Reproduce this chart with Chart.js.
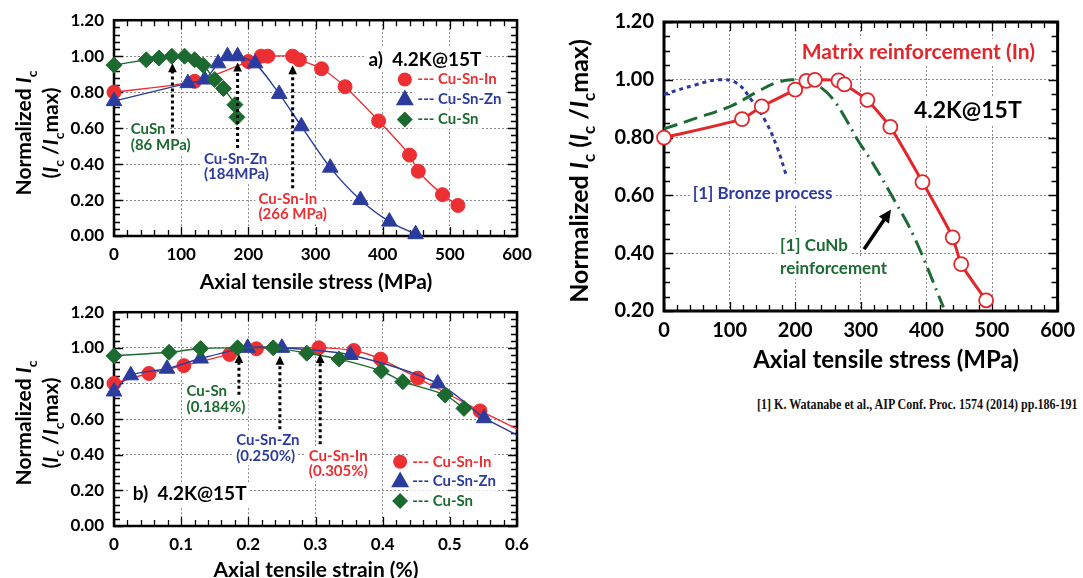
<!DOCTYPE html>
<html>
<head>
<meta charset="utf-8">
<script src="https://cdn.jsdelivr.net/npm/chart.js@4.4.1/dist/chart.umd.min.js"></script>
<style>
  html, body { margin: 0; padding: 0; background: #fff; width: 1083px; height: 578px; overflow: hidden; position: relative; }
  canvas { position: absolute; }
  #caption { position: absolute; left: 757px; top: 397px; font: bold 14px "Liberation Serif", serif; white-space: nowrap; color: #111; transform: scaleX(0.86); transform-origin: 0 0; }
</style>
</head>
<body>
<canvas id="chartA" width="545" height="292" style="left:0;top:0"></canvas>
<canvas id="chartB" width="545" height="286" style="left:0;top:292px"></canvas>
<canvas id="chartC" width="538" height="380" style="left:545px;top:0"></canvas>
<div id="caption">[1] K. Watanabe et al., AIP Conf. Proc. 1574 (2014) pp.186-191</div>
<script>
// a) Ic vs stress (MPa)
const stressCuSnIn = [[0,0.80],[120,0.86],[200,0.97],[219,1.0],[229,1.0],[266,1.0],[276,0.98],[309,0.93],[344,0.83],[394,0.64],[440,0.45],[453,0.36],[489,0.23],[512,0.17]];
const stressCuSnZn = [[0,0.75],[110,0.85],[135,0.87],[155,0.96],[169,1.0],[184,1.0],[210,0.96],[246,0.79],[279,0.61],[322,0.38],[367,0.20],[410,0.08],[449,0.01]];
const stressCuSn = [[0,0.95],[48,0.98],[67,0.99],[86,1.0],[105,1.0],[120,0.98],[133,0.95],[150,0.87],[163,0.82],[180,0.73],[183,0.66]];

// b) Ic vs strain (%)
const strainCuSnIn = [[0,0.80],[0.052,0.856],[0.104,0.90],[0.172,0.963],[0.212,0.995],[0.305,1.0],[0.357,0.985],[0.397,0.937],[0.452,0.83],[0.545,0.646]];
const strainCuSnZn = [[0,0.755],[0.025,0.846],[0.079,0.883],[0.129,0.94],[0.199,1.0],[0.25,1.0],[0.352,0.96],[0.482,0.80],[0.551,0.605]];
const strainCuSn = [[0,0.955],[0.082,0.975],[0.129,0.996],[0.184,1.0],[0.237,1.0],[0.287,0.97],[0.335,0.937],[0.398,0.87],[0.43,0.81],[0.493,0.735],[0.521,0.66]];
const strainInFitTail = [[0.545,0.646],[0.6,0.545]];
const strainZnFitTail = [[0.551,0.605],[0.6,0.51]];

// right) comparison with ref [1]
const matrixIn = [[0,0.80],[119,0.864],[149,0.908],[200,0.966],[217,0.996],[230,1.0],[266,0.998],[275,0.984],[310,0.93],[345,0.837],[394,0.646],[440,0.455],[453,0.362],[491,0.237]];
const bronzeProcess = [[0,0.95],[49,0.983],[83,1.0],[110,0.99],[134,0.928],[155,0.856],[173,0.763],[186,0.672]];
const cuNbReinf = [[0,0.83],[50,0.868],[102,0.909],[145,0.962],[170,0.989],[195,1.0],[220,0.995],[240,0.972],[258,0.932],[276,0.869],[296,0.789],[316,0.72],[351,0.584],[381,0.458],[426,0.213]];

const stressTicks = [0, 100, 200, 300, 400, 500, 600];
const strainTicks = [0, 0.1, 0.2, 0.3, 0.4, 0.5, 0.6];

const RED = '#ec2f32', BLUE = '#2c3c9e', GREEN = '#1c6a30';
const SANS = 'Lato, "Open Sans", sans-serif';

const pts = arr => arr.map(p => ({ x: p[0], y: p[1] }));

function series(arr, color, style, radius, order) {
  return {
    data: pts(arr), showLine: true, borderColor: color, backgroundColor: color,
    pointBackgroundColor: color, pointBorderColor: color, pointBorderWidth: 1,
    pointStyle: style, pointRadius: radius, borderWidth: 1.4, tension: 0.3,
    clip: false, order: order
  };
}
function fitLine(arr, color) {
  return { data: pts(arr), showLine: true, borderColor: color, pointRadius: 0, borderWidth: 1.4, clip: false, order: 9 };
}

// ---- drawing helpers ----
function drawShape(ctx, style, x, y, r, color) {
  ctx.save();
  ctx.fillStyle = color;
  ctx.beginPath();
  if (style === 'circle') {
    ctx.arc(x, y, r, 0, Math.PI * 2);
  } else if (style === 'triangle') {
    ctx.moveTo(x, y - r * 1.1);
    ctx.lineTo(x + r, y + r * 0.65);
    ctx.lineTo(x - r, y + r * 0.65);
    ctx.closePath();
  } else {
    ctx.moveTo(x, y - r); ctx.lineTo(x + r, y); ctx.lineTo(x, y + r); ctx.lineTo(x - r, y);
    ctx.closePath();
  }
  ctx.fill();
  ctx.restore();
}

function segFont(kind, size) {
  if (kind === 'i') return 'italic bold ' + size + 'px ' + SANS;
  if (kind === 's') return 'bold ' + Math.round(size * 0.68) + 'px ' + SANS;
  return 'bold ' + size + 'px ' + SANS;
}
function drawRich(ctx, segs, size, cx, cy, rotated, color) {
  ctx.save();
  ctx.fillStyle = color || '#000';
  ctx.textBaseline = 'alphabetic';
  ctx.textAlign = 'left';
  let w = 0;
  segs.forEach(s => { ctx.font = segFont(s[1], size); w += ctx.measureText(s[0]).width; });
  ctx.translate(cx, cy);
  if (rotated) ctx.rotate(-Math.PI / 2);
  let x = -w / 2;
  segs.forEach(s => {
    ctx.font = segFont(s[1], size);
    ctx.fillText(s[0], x, s[1] === 's' ? size * 0.28 : 0);
    x += ctx.measureText(s[0]).width;
  });
  ctx.restore();
}

function arrowHead(ctx, x1, y1, x2, y2, size) {
  const a = Math.atan2(y2 - y1, x2 - x1);
  ctx.beginPath();
  ctx.moveTo(x2, y2);
  ctx.lineTo(x2 - size * Math.cos(a - 0.45), y2 - size * Math.sin(a - 0.45));
  ctx.lineTo(x2 - size * Math.cos(a + 0.45), y2 - size * Math.sin(a + 0.45));
  ctx.closePath();
  ctx.fill();
}

function noteText(ctx, text, size, color, px, py) {
  ctx.font = 'bold ' + size + 'px ' + SANS;
  ctx.textAlign = 'left';
  ctx.textBaseline = 'middle';
  const w = ctx.measureText(text).width;
  ctx.fillStyle = '#fff';
  ctx.fillRect(px - 3, py - size * 0.62, w + 6, size * 1.24);
  ctx.fillStyle = color;
  ctx.fillText(text, px, py);
}

const deco = {
  id: 'deco',
  beforeDatasetsDraw(chart, args, o) {
    const { ctx, chartArea: a, scales: { x, y } } = chart;
    ctx.save();
    // labels sit on white boxes that hide the dotted grid
    (o.notes || []).forEach(n => noteText(ctx, n.text, n.size, n.color, x.getPixelForValue(n.x), y.getPixelForValue(n.y)));
    (o.legend || []).forEach(l => {
      const py = y.getPixelForValue(l.y);
      noteText(ctx, l.text, l.size, l.color, x.getPixelForValue(l.tx), py);
      drawShape(ctx, l.style, x.getPixelForValue(l.x), py, l.r, l.color);
    });
    // frame with inward minor ticks
    ctx.strokeStyle = '#000';
    ctx.lineWidth = 1.3;
    ctx.beginPath();
    const nx = Math.round((x.max - x.min) / o.xMinor);
    for (let i = 0; i <= nx; i++) {
      const v = x.min + i * o.xMinor;
      const px = Math.round(x.getPixelForValue(v)) + 0.5;
      const len = i % o.xPer === 0 ? 9 : 6;
      ctx.moveTo(px, a.bottom); ctx.lineTo(px, a.bottom - len);
      ctx.moveTo(px, a.top); ctx.lineTo(px, a.top + len);
    }
    const ny = Math.round((y.max - y.min) / o.yMinor);
    for (let i = 0; i <= ny; i++) {
      const v = y.min + i * o.yMinor;
      const py = Math.round(y.getPixelForValue(v)) + 0.5;
      const len = i % o.yPer === 0 ? 9 : 6;
      ctx.moveTo(a.left, py); ctx.lineTo(a.left + len, py);
      ctx.moveTo(a.right, py); ctx.lineTo(a.right - len, py);
    }
    ctx.stroke();
    ctx.lineWidth = o.frame;
    ctx.strokeRect(a.left, a.top, a.right - a.left, a.bottom - a.top);
    ctx.restore();
  },
  afterDraw(chart, args, o) {
    const { ctx, scales: { x, y } } = chart;
    ctx.save();
    (o.arrows || []).forEach(r => {
      const px = x.getPixelForValue(r.x);
      const p0 = y.getPixelForValue(r.y0), p1 = y.getPixelForValue(r.y1);
      ctx.strokeStyle = '#000'; ctx.fillStyle = '#000';
      ctx.lineWidth = 3;
      ctx.setLineDash([3, 3]);
      ctx.beginPath(); ctx.moveTo(px, p0); ctx.lineTo(px, p1 + 6); ctx.stroke();
      ctx.setLineDash([]);
      arrowHead(ctx, px, p0, px, p1, 10);
    });
    (o.pointers || []).forEach(r => {
      const x0 = x.getPixelForValue(r.x0), y0 = y.getPixelForValue(r.y0);
      const x1 = x.getPixelForValue(r.x1), y1 = y.getPixelForValue(r.y1);
      ctx.strokeStyle = '#000'; ctx.fillStyle = '#000'; ctx.lineWidth = 3.5;
      ctx.beginPath(); ctx.moveTo(x0, y0); ctx.lineTo(x0 + (x1 - x0) * 0.75, y0 + (y1 - y0) * 0.75); ctx.stroke();
      arrowHead(ctx, x0, y0, x1, y1, 14);
    });
    (o.titles || []).forEach(t => drawRich(ctx, t.segs, t.size, t.x, t.y, t.rotated, '#000'));
    ctx.restore();
  }
};

function axes(xMin, xMax, xTicks, yMin, yMax, yStep, yDigits, fontSize, yWidth, xHeight, xFmt) {
  const gridStyle = { color: '#8c8c8c', lineWidth: 1, drawTicks: false };
  return {
    x: {
      type: 'linear', min: xMin, max: xMax,
      afterBuildTicks: s => { s.ticks = xTicks.map(v => ({ value: v })); },
      afterFit: s => { s.height = xHeight; },
      ticks: { font: { family: SANS, size: fontSize, weight: 'bold' }, color: '#000', padding: 8, maxRotation: 0, callback: xFmt },
      grid: gridStyle,
      border: { display: false, dash: [2, 2] }
    },
    y: {
      type: 'linear', min: yMin, max: yMax,
      afterFit: s => { s.width = yWidth; },
      ticks: { stepSize: yStep, font: { family: SANS, size: fontSize, weight: 'bold' }, color: '#000', padding: 10, callback: v => v.toFixed(yDigits) },
      grid: gridStyle,
      border: { display: false, dash: [2, 2] }
    }
  };
}

const baseOpts = {
  responsive: false, animation: false, devicePixelRatio: 1,
  events: []
};

const ylab1 = [['Normalized ', 'n'], ['I', 'i'], ['c', 's']];
const ylab2 = [['(', 'n'], ['I', 'i'], ['c', 's'], [' /', 'n'], ['I', 'i'], ['c', 's'], ['max)', 'n']];

// ---- a) stress ----
new Chart(document.getElementById('chartA'), {
  type: 'scatter',
  data: {
    datasets: [
      series(stressCuSnIn, RED, 'circle', 7, 3),
      series(stressCuSnZn, BLUE, 'triangle', 9, 2),
      series(stressCuSn, GREEN, 'rectRot', 8, 1)
    ]
  },
  options: Object.assign({}, baseOpts, {
    layout: { padding: { top: 20, right: 28, left: 0, bottom: 0 } },
    scales: axes(0, 600, stressTicks, 0, 1.2, 0.2, 2, 17, 114, 56, v => String(v)),
    plugins: {
      legend: { display: false }, tooltip: { enabled: false },
      deco: {
        xMinor: 20, xPer: 5, yMinor: 0.04, yPer: 5, frame: 2.5,
        arrows: [{ x: 87, y0: 0.57, y1: 0.96 }, { x: 184, y0: 0.49, y1: 0.965 }, { x: 266, y0: 0.265, y1: 0.95 }],
        notes: [
          { text: 'a)  4.2K@15T', x: 379, y: 0.98, size: 19, color: '#000' },
          { text: 'CuSn', x: 25, y: 0.593, size: 15, color: GREEN },
          { text: '(86 MPa)', x: 25, y: 0.506, size: 15, color: GREEN },
          { text: 'Cu-Sn-Zn', x: 134, y: 0.426, size: 15, color: BLUE },
          { text: '(184MPa)', x: 134, y: 0.343, size: 15, color: BLUE },
          { text: 'Cu-Sn-In', x: 215, y: 0.204, size: 15, color: RED },
          { text: '(266 MPa)', x: 215, y: 0.12, size: 15, color: RED }
        ],
        legend: [
          { style: 'circle', r: 7, color: RED, x: 433, y: 0.87, tx: 452, text: '--- Cu-Sn-In', size: 15 },
          { style: 'triangle', r: 9, color: BLUE, x: 433, y: 0.76, tx: 452, text: '--- Cu-Sn-Zn', size: 15 },
          { style: 'diamond', r: 8, color: GREEN, x: 433, y: 0.648, tx: 452, text: '--- Cu-Sn', size: 15 }
        ],
        titles: [
          { segs: ylab1, size: 21, x: 31, y: 133, rotated: true },
          { segs: ylab2, size: 21, x: 58, y: 133, rotated: true },
          { segs: [['Axial tensile stress (MPa)', 'n']], size: 21, x: 316, y: 289, rotated: false }
        ]
      }
    }
  }),
  plugins: [deco]
});

// ---- b) strain ----
new Chart(document.getElementById('chartB'), {
  type: 'scatter',
  data: {
    datasets: [
      series(strainCuSnIn, RED, 'circle', 7, 3),
      fitLine(strainInFitTail, RED),
      series(strainCuSnZn, BLUE, 'triangle', 9, 2),
      fitLine(strainZnFitTail, BLUE),
      series(strainCuSn, GREEN, 'rectRot', 8, 1)
    ]
  },
  options: Object.assign({}, baseOpts, {
    layout: { padding: { top: 18, right: 28, left: 0, bottom: 0 } },
    scales: axes(0, 0.6, strainTicks, 0, 1.2, 0.2, 2, 17, 114, 52, v => (v === 0 ? '0' : v.toFixed(1))),
    plugins: {
      legend: { display: false }, tooltip: { enabled: false },
      deco: {
        xMinor: 0.02, xPer: 5, yMinor: 0.04, yPer: 5, frame: 2.5,
        arrows: [{ x: 0.186, y0: 0.737, y1: 0.965 }, { x: 0.247, y0: 0.543, y1: 0.955 }, { x: 0.307, y0: 0.459, y1: 0.965 }],
        notes: [
          { text: 'b)  4.2K@15T', x: 0.028, y: 0.178, size: 19, color: '#000' },
          { text: 'Cu-Sn', x: 0.108, y: 0.756, size: 15, color: GREEN },
          { text: '(0.184%)', x: 0.108, y: 0.669, size: 15, color: GREEN },
          { text: 'Cu-Sn-Zn', x: 0.182, y: 0.481, size: 15, color: BLUE },
          { text: '(0.250%)', x: 0.182, y: 0.394, size: 15, color: BLUE },
          { text: 'Cu-Sn-In', x: 0.29, y: 0.391, size: 15, color: RED },
          { text: '(0.305%)', x: 0.29, y: 0.306, size: 15, color: RED }
        ],
        legend: [
          { style: 'circle', r: 7, color: RED, x: 0.426, y: 0.361, tx: 0.444, text: '--- Cu-Sn-In', size: 15 },
          { style: 'triangle', r: 9, color: BLUE, x: 0.426, y: 0.25, tx: 0.444, text: '--- Cu-Sn-Zn', size: 15 },
          { style: 'diamond', r: 8, color: GREEN, x: 0.426, y: 0.141, tx: 0.444, text: '--- Cu-Sn', size: 15 }
        ],
        titles: [
          { segs: ylab1, size: 21, x: 31, y: 131, rotated: true },
          { segs: ylab2, size: 21, x: 58, y: 131, rotated: true },
          { segs: [['Axial tensile strain (%)', 'n']], size: 21, x: 316, y: 285, rotated: false }
        ]
      }
    }
  }),
  plugins: [deco]
});

// ---- right: comparison ----
const matrixSet = {
  data: pts(matrixIn), showLine: true, borderColor: '#e3262b', borderWidth: 3, tension: 0.15,
  pointStyle: 'circle', pointRadius: 7, pointBackgroundColor: '#fff', pointBorderColor: '#e3262b', pointBorderWidth: 1.8,
  clip: false, order: 1
};
const bronzeSet = {
  data: pts(bronzeProcess), showLine: true, borderColor: '#2d3a9c', borderWidth: 3, borderDash: [4, 4], tension: 0.4,
  pointRadius: 0, order: 3
};
const cuNbSet = {
  data: pts(cuNbReinf), showLine: true, borderColor: '#1d6b34', borderWidth: 3, tension: 0.4, pointRadius: 0, order: 2,
  borderDash: [14, 7],
  segment: { borderDash: c => (c.p0.parsed.x >= 240 ? [16, 6, 2, 6] : [14, 7]) }
};

new Chart(document.getElementById('chartC'), {
  type: 'scatter',
  data: { datasets: [matrixSet, cuNbSet, bronzeSet] },
  options: Object.assign({}, baseOpts, {
    layout: { padding: { top: 19, right: 21, left: 0, bottom: 0 } },
    scales: axes(0, 600, stressTicks, 0.2, 1.2, 0.2, 2, 20, 119, 69, v => String(v)),
    plugins: {
      legend: { display: false }, tooltip: { enabled: false },
      deco: {
        xMinor: 20, xPer: 5, yMinor: 0.05, yPer: 4, frame: 3,
        pointers: [{ x0: 305, y0: 0.414, x1: 346, y1: 0.551 }],
        notes: [
          { text: 'Matrix reinforcement (In)', x: 210, y: 1.096, size: 21, color: '#e3262b' },
          { text: '4.2K@15T', x: 381, y: 0.894, size: 23, color: '#000' },
          { text: '[1] Bronze process', x: 44, y: 0.605, size: 17, color: '#2d3a9c' },
          { text: '[1] CuNb', x: 177, y: 0.427, size: 17, color: '#1d6b34' },
          { text: 'reinforcement', x: 177, y: 0.347, size: 17, color: '#1d6b34' }
        ],
        titles: [
          { segs: [['Normalized ', 'n'], ['I', 'i'], ['c', 's'], [' (', 'n'], ['I', 'i'], ['c', 's'], [' /', 'n'], ['I', 'i'], ['c', 's'], ['max)', 'n']], size: 25, x: 43, y: 171, rotated: true },
          { segs: [['Axial tensile stress (MPa)', 'n']], size: 24, x: 341, y: 368, rotated: false }
        ]
      }
    }
  }),
  plugins: [deco]
});
</script>
</body>
</html>
